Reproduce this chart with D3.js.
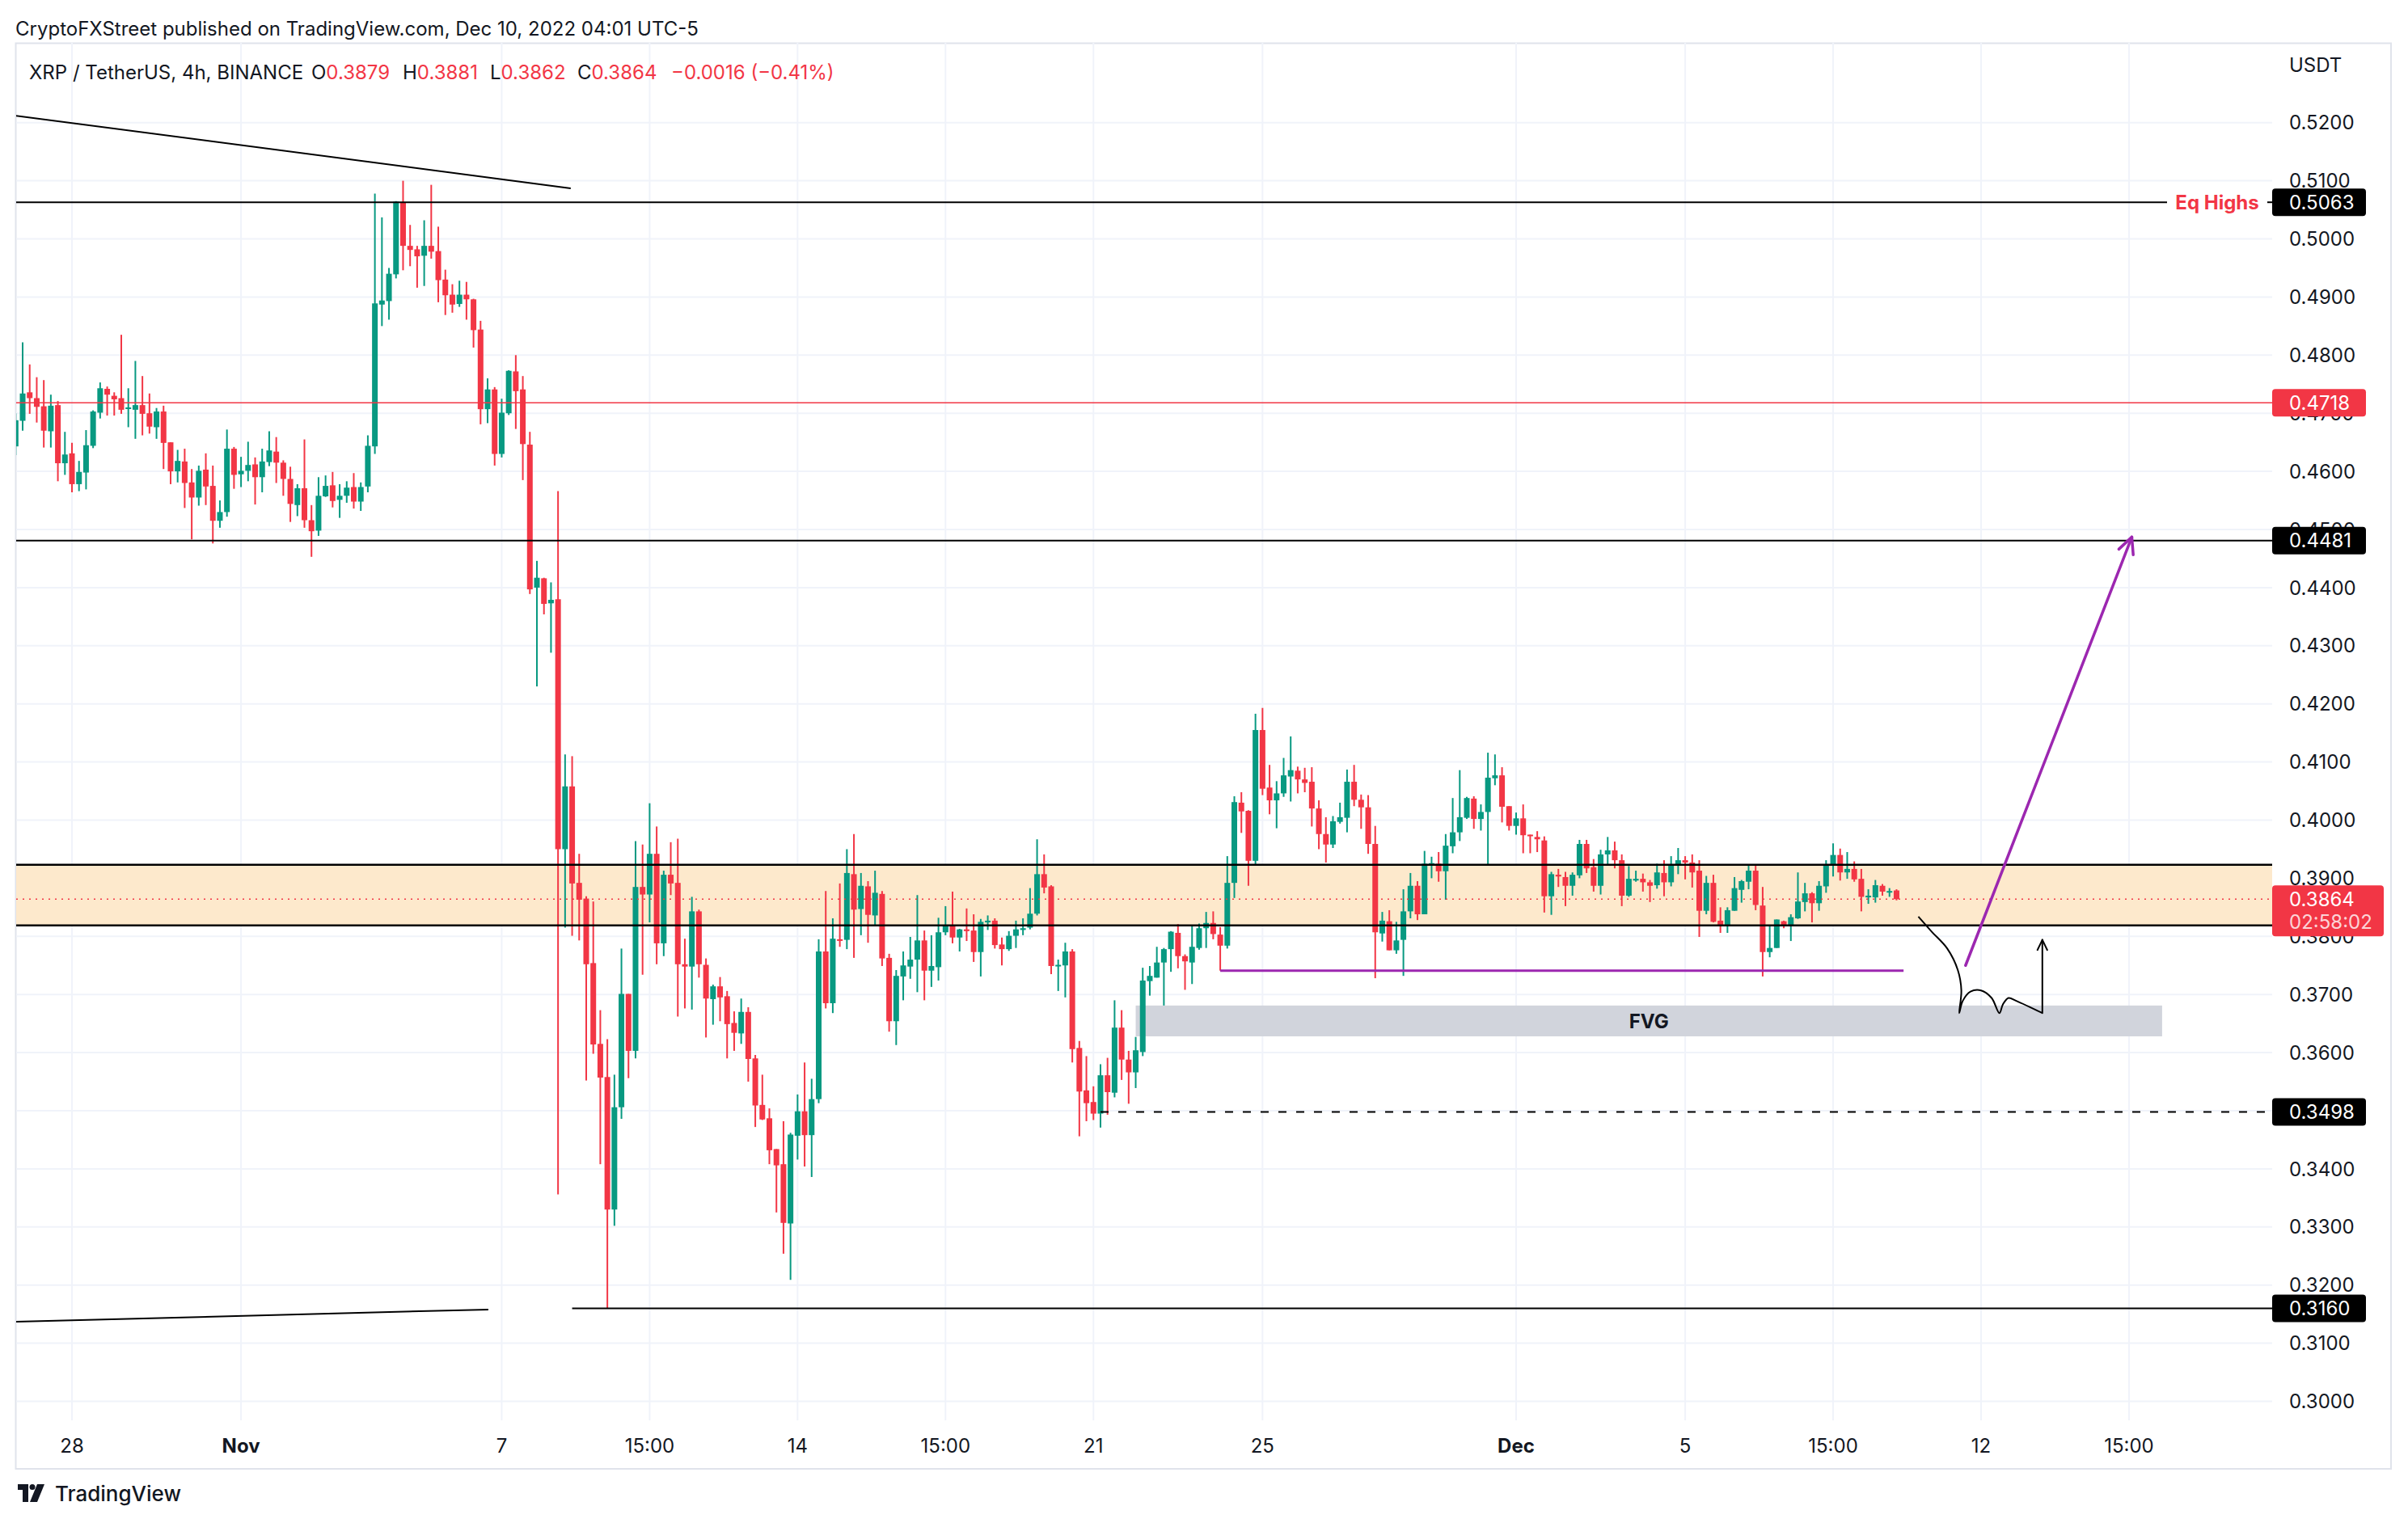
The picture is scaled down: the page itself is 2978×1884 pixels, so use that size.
<!DOCTYPE html>
<html><head><meta charset="utf-8">
<script src="https://cdn.jsdelivr.net/npm/d3@7"></script>
<style>
html,body{margin:0;padding:0;background:#fff;}
svg{display:block;font-family:Inter,"Noto Sans",sans-serif;}
</style></head>
<body><svg id="chart" width="2978" height="1884"></svg>
<script>
// ---------- DATA ----------
const firstBar = -8; // bar 0 = Oct 28 00:00 (UTC-4), 4h bars
const opens = [
0.4643,0.4687,0.4736,0.4726,0.4712,0.4669,0.4714,0.4614,
0.4631,0.4578,0.4598,0.4644,0.4701,0.4742,0.4730,0.4726,0.4708,0.4706,
0.4714,0.4700,0.4676,0.4703,0.4650,0.4600,0.4617,0.4581,0.4555,0.4603,
0.4575,0.4515,0.4530,0.4639,0.4595,0.4601,0.4612,0.4590,0.4616,0.4634,
0.4615,0.4587,0.4542,0.4571,0.4516,0.4498,0.4557,0.4576,0.4551,0.4558,
0.4573,0.4548,0.4574,0.4643,0.4887,0.4893,0.4939,0.5063,0.4988,0.4982,
0.4971,0.4988,0.4979,0.4930,0.4904,0.4888,0.4904,0.4896,0.4844,0.4707,
0.4741,0.4630,0.4700,0.4772,0.4741,0.4646,0.4400,0.4416,0.4373,0.4380,
0.3950,0.4058,0.3892,0.3865,0.3754,0.3615,0.3558,0.3330,0.3506,0.3701,
0.3603,0.3885,0.3872,0.3942,0.3788,0.3906,0.3892,0.3752,0.3748,0.3843,
0.3751,0.3692,0.3714,0.3697,0.3651,0.3633,0.3670,0.3590,0.3510,0.3487,
0.3434,0.3408,0.3306,0.3457,0.3499,0.3458,0.3520,0.3774,0.3685,0.3795,
0.3794,0.3907,0.3847,0.3886,0.3836,0.3873,0.3763,0.3654,0.3731,0.3748,
0.3760,0.3793,0.3741,0.3747,0.3807,0.3818,0.3798,0.3812,0.3810,0.3773,
0.3824,0.3827,0.3786,0.3778,0.3801,0.3811,0.3815,0.3839,0.3907,0.3886,
0.3749,0.3750,0.3774,0.3608,0.3535,0.3515,0.3495,0.3561,0.3531,0.3643,
0.3588,0.3566,0.3601,0.3723,0.3729,0.3755,0.3778,0.3806,0.3766,0.3755,
0.3780,0.3814,0.3823,0.3803,0.3784,0.3892,0.4030,0.4016,0.3930,0.4155,
0.4056,0.4034,0.4046,0.4075,0.4085,0.4070,0.4066,0.4020,0.3976,0.3958,
0.3997,0.4004,0.4066,0.4035,0.4022,0.3959,0.3805,0.3826,0.3776,0.3794,
0.3843,0.3887,0.3838,0.3923,0.3925,0.3912,0.3955,0.3979,0.4004,0.4037,
0.4002,0.4014,0.4072,0.4077,0.4024,0.3990,0.4003,0.3975,0.3971,0.3965,
0.3869,0.3906,0.3902,0.3887,0.3905,0.3959,0.3919,0.3887,0.3941,0.3948,
0.3931,0.3870,0.3896,0.3899,0.3893,0.3888,0.3909,0.3893,0.3923,0.3931,
0.3927,0.3913,0.3844,0.3892,0.3827,0.3819,0.3844,0.3880,0.3894,0.3913,
0.3853,0.3773,0.3780,0.3826,0.3819,0.3831,0.3859,0.3874,0.3857,0.3886,
0.3923,0.3940,0.3910,0.3916,0.3899,0.3867,0.3867,0.3887,0.3877,0.3879];
const highs = [
0.4700,0.4822,0.4784,0.4762,0.4757,0.4732,0.4721,0.4668,
0.4649,0.4618,0.4671,0.4705,0.4753,0.4746,0.4736,0.4835,0.4743,0.4790,
0.4764,0.4734,0.4709,0.4713,0.4650,0.4637,0.4639,0.4604,0.4610,0.4631,
0.4610,0.4550,0.4672,0.4642,0.4625,0.4651,0.4624,0.4639,0.4669,0.4659,
0.4619,0.4608,0.4578,0.4655,0.4542,0.4590,0.4593,0.4599,0.4578,0.4583,
0.4597,0.4581,0.4662,0.5078,0.5037,0.4950,0.5065,0.5100,0.5024,0.4988,
0.5032,0.5093,0.5021,0.4947,0.4922,0.4928,0.4926,0.4897,0.4859,0.4760,
0.4745,0.4725,0.4774,0.4800,0.4764,0.4668,0.4446,0.4417,0.4409,0.4566,
0.4113,0.4110,0.3942,0.3869,0.3860,0.3673,0.3623,0.3562,0.3779,0.3701,
0.3964,0.3958,0.4029,0.3989,0.3913,0.3962,0.3968,0.3796,0.3868,0.3846,
0.3762,0.3717,0.3730,0.3706,0.3671,0.3693,0.3678,0.3596,0.3562,0.3504,
0.3434,0.3482,0.3462,0.3528,0.3583,0.3555,0.3795,0.3878,0.3831,0.3891,
0.3950,0.3976,0.3909,0.3895,0.3913,0.3878,0.3770,0.3742,0.3774,0.3799,
0.3871,0.3810,0.3802,0.3832,0.3852,0.3877,0.3813,0.3848,0.3838,0.3830,
0.3836,0.3831,0.3798,0.3809,0.3827,0.3831,0.3883,0.3967,0.3941,0.3888,
0.3760,0.3789,0.3778,0.3620,0.3594,0.3542,0.3580,0.3591,0.3690,0.3673,
0.3603,0.3627,0.3746,0.3749,0.3782,0.3780,0.3809,0.3821,0.3769,0.3819,
0.3822,0.3842,0.3843,0.3816,0.3938,0.4041,0.4048,0.4017,0.4183,0.4193,
0.4095,0.4067,0.4107,0.4144,0.4092,0.4090,0.4091,0.4034,0.4005,0.4007,
0.4030,0.4087,0.4095,0.4044,0.4043,0.3990,0.3842,0.3845,0.3825,0.3881,
0.3909,0.3895,0.3947,0.3937,0.3945,0.3976,0.4038,0.4086,0.4040,0.4041,
0.4027,0.4116,0.4113,0.4091,0.4024,0.4013,0.4027,0.3975,0.3981,0.3972,
0.3911,0.3916,0.3911,0.3910,0.3966,0.3966,0.3933,0.3949,0.3971,0.3963,
0.3941,0.3921,0.3913,0.3908,0.3897,0.3925,0.3931,0.3938,0.3952,0.3938,
0.3941,0.3931,0.3904,0.3906,0.3850,0.3850,0.3902,0.3897,0.3924,0.3924,
0.3885,0.3819,0.3829,0.3827,0.3838,0.3910,0.3892,0.3876,0.3895,0.3931,
0.3960,0.3951,0.3945,0.3929,0.3916,0.3881,0.3897,0.3890,0.3883,0.3881];
const lows = [
0.4628,0.4670,0.4699,0.4684,0.4641,0.4641,0.4583,0.4594,
0.4564,0.4566,0.4569,0.4640,0.4691,0.4696,0.4696,0.4699,0.4676,0.4656,
0.4662,0.4665,0.4656,0.4604,0.4578,0.4581,0.4537,0.4483,0.4541,0.4542,
0.4476,0.4503,0.4522,0.4570,0.4573,0.4583,0.4543,0.4564,0.4609,0.4580,
0.4558,0.4513,0.4523,0.4503,0.4453,0.4489,0.4556,0.4538,0.4520,0.4546,
0.4536,0.4532,0.4564,0.4630,0.4850,0.4861,0.4932,0.4946,0.4953,0.4916,
0.4919,0.4966,0.4891,0.4869,0.4873,0.4883,0.4861,0.4813,0.4681,0.4683,
0.4610,0.4624,0.4697,0.4673,0.4585,0.4389,0.4230,0.4354,0.4288,0.3356,
0.3815,0.3801,0.3793,0.3552,0.3598,0.3408,0.3160,0.3302,0.3486,0.3556,
0.3590,0.3734,0.3824,0.3752,0.3766,0.3871,0.3662,0.3676,0.3674,0.3729,
0.3626,0.3648,0.3654,0.3590,0.3603,0.3615,0.3550,0.3472,0.3484,0.3408,
0.3325,0.3254,0.3209,0.3416,0.3404,0.3386,0.3513,0.3676,0.3668,0.3782,
0.3778,0.3763,0.3802,0.3789,0.3818,0.3749,0.3636,0.3613,0.3690,0.3727,
0.3704,0.3690,0.3713,0.3724,0.3802,0.3788,0.3774,0.3792,0.3756,0.3731,
0.3811,0.3779,0.3750,0.3775,0.3780,0.3802,0.3812,0.3836,0.3874,0.3735,
0.3706,0.3695,0.3583,0.3456,0.3482,0.3484,0.3471,0.3493,0.3523,0.3553,
0.3512,0.3539,0.3594,0.3698,0.3729,0.3681,0.3739,0.3745,0.3708,0.3718,
0.3777,0.3780,0.3795,0.3741,0.3779,0.3866,0.3978,0.3887,0.3924,0.4043,
0.4010,0.3986,0.4040,0.4032,0.4046,0.4048,0.3989,0.3950,0.3927,0.3952,
0.3994,0.3979,0.4024,0.3985,0.3942,0.3728,0.3791,0.3776,0.3770,0.3732,
0.3831,0.3828,0.3838,0.3900,0.3894,0.3863,0.3943,0.3964,0.4002,0.3985,
0.3982,0.3923,0.4060,0.3996,0.3982,0.3975,0.3943,0.3943,0.3945,0.3841,
0.3837,0.3885,0.3852,0.3870,0.3900,0.3909,0.3877,0.3872,0.3923,0.3917,
0.3852,0.3868,0.3894,0.3877,0.3859,0.3882,0.3869,0.3886,0.3907,0.3898,
0.3884,0.3799,0.3838,0.3824,0.3806,0.3806,0.3844,0.3858,0.3881,0.3845,
0.3731,0.3764,0.3780,0.3814,0.3792,0.3830,0.3843,0.3824,0.3844,0.3875,
0.3903,0.3896,0.3899,0.3894,0.3843,0.3856,0.3858,0.3870,0.3868,0.3862];
const closes = [
0.4688,0.4734,0.4726,0.4711,0.4670,0.4713,0.4614,0.4629,
0.4578,0.4599,0.4645,0.4703,0.4743,0.4732,0.4724,0.4706,0.4710,0.4714,
0.4699,0.4677,0.4703,0.4649,0.4600,0.4618,0.4580,0.4555,0.4601,0.4574,
0.4515,0.4530,0.4639,0.4594,0.4601,0.4611,0.4590,0.4617,0.4636,0.4615,
0.4587,0.4544,0.4571,0.4516,0.4497,0.4558,0.4575,0.4549,0.4558,0.4572,
0.4548,0.4573,0.4644,0.4889,0.4894,0.4940,0.5064,0.4988,0.4981,0.4970,
0.4988,0.4978,0.4929,0.4903,0.4887,0.4904,0.4896,0.4843,0.4707,0.4741,
0.4630,0.4701,0.4773,0.4738,0.4647,0.4397,0.4417,0.4372,0.4379,0.3950,
0.4058,0.3891,0.3863,0.3752,0.3614,0.3557,0.3330,0.3506,0.3701,0.3603,
0.3885,0.3872,0.3942,0.3788,0.3906,0.3891,0.3752,0.3748,0.3843,0.3752,
0.3693,0.3714,0.3695,0.3649,0.3634,0.3670,0.3589,0.3509,0.3485,0.3432,
0.3406,0.3307,0.3459,0.3499,0.3458,0.3520,0.3774,0.3685,0.3796,0.3793,
0.3909,0.3846,0.3887,0.3837,0.3875,0.3762,0.3654,0.3732,0.3750,0.3760,
0.3793,0.3741,0.3749,0.3807,0.3818,0.3798,0.3812,0.3809,0.3773,0.3825,
0.3827,0.3785,0.3778,0.3801,0.3812,0.3814,0.3839,0.3907,0.3884,0.3749,
0.3751,0.3774,0.3606,0.3533,0.3513,0.3495,0.3561,0.3532,0.3643,0.3588,
0.3566,0.3604,0.3724,0.3732,0.3755,0.3778,0.3808,0.3766,0.3757,0.3782,
0.3814,0.3823,0.3804,0.3784,0.3892,0.4031,0.4015,0.3930,0.4155,0.4054,
0.4034,0.4046,0.4077,0.4086,0.4070,0.4064,0.4020,0.3976,0.3958,0.3998,
0.4005,0.4066,0.4035,0.4022,0.3959,0.3807,0.3827,0.3776,0.3793,0.3843,
0.3887,0.3838,0.3925,0.3926,0.3912,0.3956,0.3979,0.4005,0.4038,0.4002,
0.4014,0.4073,0.4077,0.4023,0.3990,0.4003,0.3974,0.3973,0.3967,0.3869,
0.3907,0.3903,0.3887,0.3906,0.3959,0.3917,0.3887,0.3941,0.3948,0.3931,
0.3870,0.3899,0.3899,0.3893,0.3887,0.3910,0.3893,0.3924,0.3931,0.3927,
0.3910,0.3844,0.3892,0.3825,0.3819,0.3845,0.3883,0.3895,0.3913,0.3854,
0.3773,0.3780,0.3829,0.3819,0.3833,0.3860,0.3874,0.3857,0.3887,0.3924,
0.3940,0.3910,0.3916,0.3898,0.3868,0.3870,0.3888,0.3877,0.3878,0.3864];

const timeTickBars   = [0, 24, 61, 82, 103, 124, 145, 169, 205, 229, 250, 271, 292];
const timeTickLabels = ["28","Nov","7","15:00","14","15:00","21","25","Dec","5","15:00","12","15:00"];
const monthLabels = ["Nov","Dec"];
const priceTicks = d3.range(30, 53).map(v => v / 100);

// drawn levels
const eqHighs = 0.5063;
const redLevel = 0.4718;
const blackLevel = 0.4481;
const zoneTop = 0.3923, zoneBottom = 0.3819;
const lastPrice = 0.3864;
const countdown = "02:58:02";
const dashedLevel = 0.3498, dashedFromBar = 146;
const lowLevel = 0.3160, lowFromBar = 71;
const purpleLevel = 0.3741, purpleFrom = 163, purpleTo = 260;
const fvg = {from: 151, to: 296.7, top: 0.3681, bottom: 0.3628, label: "FVG"};
const trendTop = [[-8, 0.5212], [70.8, 0.5087]];
const trendBottom = [[-8, 0.3137], [59.1, 0.3158]];
const sketchPath = [[262.1,0.3834],[264.0,0.3808],[266.2,0.3779],[267.7,0.3742],[268.2,0.3707],[267.9,0.3668],
  [268.4,0.3689],[269.5,0.3705],[271.0,0.3707],[272.5,0.3694],[273.6,0.3668],[274.1,0.3683],[274.9,0.3694],
  [276.0,0.3689],[279.7,0.3668]];
const sketchArrow = [[279.7,0.3668],[279.7,0.3794]];
const purpleArrow = [[268.8,0.3750],[292.4,0.4487]];
const tags = [
  {v: 0.5063, color: "#000000"},
  {v: 0.4718, color: "#f23645"},
  {v: 0.4481, color: "#000000"},
  {v: 0.3498, color: "#000000"},
  {v: 0.3160, color: "#000000"}
];

// ---------- LAYOUT ----------
const UP = "#089981", DOWN = "#f23645", TXT = "#131722";
const pane = {left: 20, right: 2810, top: 53, bottom: 1757};
const x = d3.scaleLinear().domain([0, 271]).range([89, 2450]);
const y = d3.scaleLinear().domain([0.30, 0.52]).range([1733.5, 151.7]);
const svg = d3.select("#chart");
const FS = 24;

const bars = opens.map((o, i) => ({i: firstBar + i, o, h: highs[i], l: lows[i], c: closes[i]}));

// outer frame
svg.append("rect").attr("x", 19.5).attr("y", 53.5).attr("width", 2957 - 19.5).attr("height", 1817 - 53.5)
  .attr("fill", "#fff").attr("stroke", "#e0e3eb").attr("stroke-width", 2);

svg.append("defs").append("clipPath").attr("id", "pane").append("rect")
  .attr("x", pane.left).attr("y", pane.top).attr("width", pane.right - pane.left).attr("height", pane.bottom - pane.top);

const g = svg.append("g").attr("clip-path", "url(#pane)");

// grid
g.selectAll("line.hg").data(priceTicks).join("line").attr("class", "hg")
  .attr("x1", pane.left).attr("x2", pane.right).attr("y1", d => y(d)).attr("y2", d => y(d))
  .attr("stroke", "#f0f3fa").attr("stroke-width", 2);
g.selectAll("line.vg").data(timeTickBars).join("line").attr("class", "vg")
  .attr("x1", d => x(d)).attr("x2", d => x(d)).attr("y1", pane.top).attr("y2", pane.bottom)
  .attr("stroke", "#f0f3fa").attr("stroke-width", 2);

// zone fill
g.append("rect").attr("x", pane.left).attr("width", pane.right - pane.left)
  .attr("y", y(zoneTop)).attr("height", y(zoneBottom) - y(zoneTop)).attr("fill", "#fde9cc");
// FVG box
g.append("rect").attr("x", x(fvg.from)).attr("width", x(fvg.to) - x(fvg.from))
  .attr("y", y(fvg.top)).attr("height", y(fvg.bottom) - y(fvg.top)).attr("fill", "#d1d4dc");
g.append("text").attr("x", (x(fvg.from) + x(fvg.to)) / 2).attr("y", (y(fvg.top) + y(fvg.bottom)) / 2)
  .attr("dy", "0.36em").attr("text-anchor", "middle").attr("font-size", 24).attr("font-weight", 700)
  .attr("fill", TXT).text(fvg.label);

// candles
const bw = 7;
const cg = g.append("g");
cg.selectAll("line.wick").data(bars).join("line").attr("class", "wick")
  .attr("x1", d => x(d.i)).attr("x2", d => x(d.i)).attr("y1", d => y(d.h)).attr("y2", d => y(d.l))
  .attr("stroke", d => d.c >= d.o ? UP : DOWN).attr("stroke-width", 2);
cg.selectAll("rect.body").data(bars).join("rect").attr("class", "body")
  .attr("x", d => x(d.i) - bw / 2).attr("width", bw)
  .attr("y", d => y(Math.max(d.o, d.c)))
  .attr("height", d => Math.max(2, Math.abs(y(d.o) - y(d.c))))
  .attr("fill", d => d.c >= d.o ? UP : DOWN);

// horizontal levels
function hline(v, x1, x2, color, w, dash) {
  const l = g.append("line").attr("x1", x1).attr("x2", x2).attr("y1", y(v)).attr("y2", y(v))
    .attr("stroke", color).attr("stroke-width", w);
  if (dash) l.attr("stroke-dasharray", dash);
  return l;
}
hline(zoneTop, pane.left, pane.right, "#000", 2.5);
hline(zoneBottom, pane.left, pane.right, "#000", 2.5);
hline(redLevel, pane.left, pane.right, DOWN, 1.5);
hline(blackLevel, pane.left, pane.right, "#000", 2);
hline(eqHighs, pane.left, 2680, "#000", 2);
hline(eqHighs, 2804, pane.right, "#000", 2);
hline(dashedLevel, x(dashedFromBar), pane.right, "#000", 2, "10,12");
hline(lowLevel, x(lowFromBar), pane.right, "#000", 2);
hline(purpleLevel, x(purpleFrom), x(purpleTo), "#9c27b0", 3);
hline(lastPrice, pane.left, pane.right, DOWN, 1.5, "2,6");

svg.append("text").attr("x", 2742).attr("y", y(eqHighs)).attr("dy", "0.36em").attr("text-anchor", "middle")
  .attr("font-size", 24).attr("font-weight", 700).attr("fill", DOWN).text("Eq Highs");

// trend lines
const line = d3.line().x(d => x(d[0])).y(d => y(d[1]));
g.append("path").attr("d", line(trendTop)).attr("stroke", "#000").attr("stroke-width", 2).attr("fill", "none");
g.append("path").attr("d", line(trendBottom)).attr("stroke", "#000").attr("stroke-width", 2).attr("fill", "none");

// sketch
const curve = d3.line().x(d => x(d[0])).y(d => y(d[1])).curve(d3.curveCatmullRom);
g.append("path").attr("d", curve(sketchPath)).attr("stroke", "#000").attr("stroke-width", 2).attr("fill", "none");
function arrow(pts, color, w, head) {
  const p0 = [x(pts[0][0]), y(pts[0][1])], p1 = [x(pts[1][0]), y(pts[1][1])];
  g.append("line").attr("x1", p0[0]).attr("y1", p0[1]).attr("x2", p1[0]).attr("y2", p1[1])
    .attr("stroke", color).attr("stroke-width", w).attr("stroke-linecap", "round");
  const a = Math.atan2(p1[1] - p0[1], p1[0] - p0[0]);
  const ang = 0.45;
  const h1 = [p1[0] - head * Math.cos(a - ang), p1[1] - head * Math.sin(a - ang)];
  const h2 = [p1[0] - head * Math.cos(a + ang), p1[1] - head * Math.sin(a + ang)];
  g.append("path").attr("d", `M${h1[0]},${h1[1]}L${p1[0]},${p1[1]}L${h2[0]},${h2[1]}`)
    .attr("stroke", color).attr("stroke-width", w).attr("fill", "none").attr("stroke-linecap", "round").attr("stroke-linejoin", "round");
}
arrow(sketchArrow, "#000", 2, 14);
arrow(purpleArrow, "#9c27b0", 3.5, 22);

// price axis labels
svg.selectAll("text.pl").data(priceTicks).join("text").attr("class", "pl")
  .attr("x", 2831).attr("y", d => y(d)).attr("dy", "0.36em").attr("font-size", FS).attr("fill", TXT)
  .text(d => d.toFixed(4));
svg.append("text").attr("x", 2831).attr("y", 80).attr("dy", "0.36em").attr("font-size", FS).attr("fill", TXT).text("USDT");

// tags
tags.forEach(t => {
  svg.append("rect").attr("x", 2810).attr("y", y(t.v) - 17).attr("width", 116).attr("height", 34).attr("rx", 4).attr("fill", t.color);
  svg.append("text").attr("x", 2831).attr("y", y(t.v)).attr("dy", "0.36em").attr("font-size", FS).attr("fill", "#fff").text(t.v.toFixed(4));
});
svg.append("rect").attr("x", 2810).attr("y", y(lastPrice) - 17).attr("width", 138).attr("height", 63).attr("rx", 4).attr("fill", DOWN);
svg.append("text").attr("x", 2831).attr("y", y(lastPrice)).attr("dy", "0.36em").attr("font-size", FS).attr("fill", "#fff").text(lastPrice.toFixed(4));
svg.append("text").attr("x", 2831).attr("y", y(lastPrice) + 28).attr("dy", "0.36em").attr("font-size", FS).attr("fill", "rgba(255,255,255,0.8)").text(countdown);

// time axis labels
svg.selectAll("text.tl").data(timeTickBars).join("text").attr("class", "tl")
  .attr("x", d => x(d)).attr("y", 1788).attr("dy", "0.36em").attr("text-anchor", "middle")
  .attr("font-size", FS).attr("fill", TXT)
  .attr("font-weight", (d, i) => monthLabels.includes(timeTickLabels[i]) ? 700 : 400)
  .text((d, i) => timeTickLabels[i]);

// header
svg.append("text").attr("x", 19).attr("y", 35).attr("dy", "0.36em").attr("font-size", FS).attr("fill", TXT)
  .text("CryptoFXStreet published on TradingView.com, Dec 10, 2022 04:01 UTC-5");
const legend = svg.append("text").attr("y", 89).attr("dy", "0.36em").attr("font-size", FS);
legend.append("tspan").attr("x", 36).attr("fill", TXT).text("XRP / TetherUS, 4h, BINANCE");
[["O", "0.3879", 385], ["H", "0.3881", 498], ["L", "0.3862", 606], ["C", "0.3864", 714]].forEach(([k, v, px]) => {
  legend.append("tspan").attr("x", px).attr("fill", TXT).text(k);
  legend.append("tspan").attr("fill", DOWN).text(v);
});
legend.append("tspan").attr("x", 830).attr("fill", DOWN).text("\u22120.0016 (\u22120.41%)");

// TradingView logo
const logo = svg.append("g").attr("transform", "translate(22,1836)");
logo.append("path").attr("d", "M0,0H13V22H6V7H0Z").attr("fill", TXT);
logo.append("circle").attr("cx", 18).attr("cy", 3.5).attr("r", 3.5).attr("fill", TXT);
logo.append("path").attr("d", "M24,0H33L24,22H15Z").attr("fill", TXT);
svg.append("text").attr("x", 68).attr("y", 1848).attr("dy", "0.36em").attr("font-size", 26).attr("font-weight", 500)
  .attr("fill", TXT).text("TradingView");
</script>
</body></html>
